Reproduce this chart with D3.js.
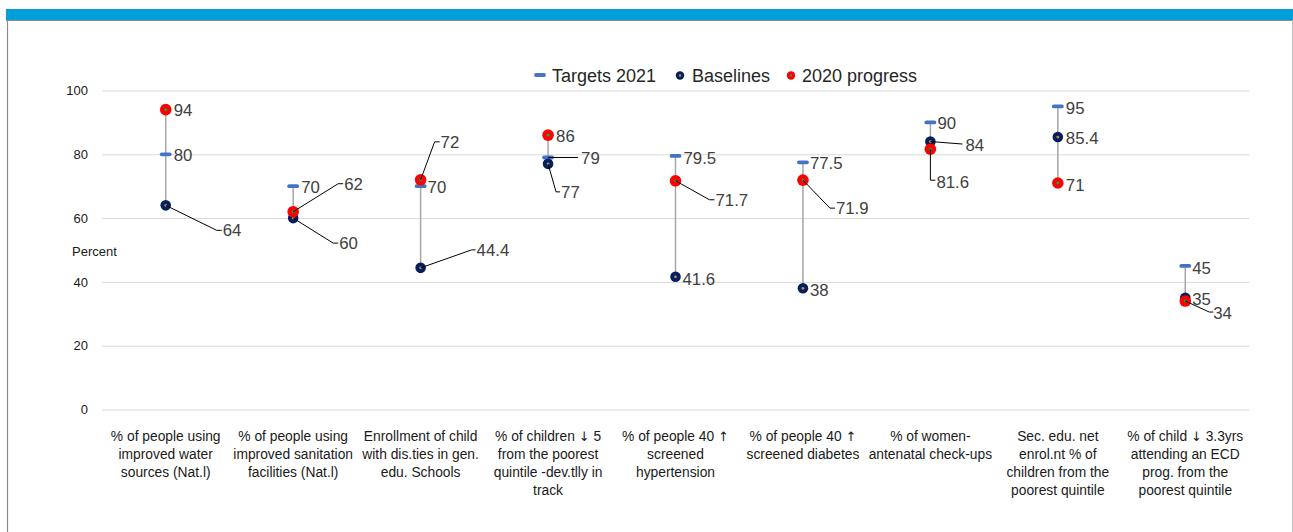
<!DOCTYPE html>
<html>
<head>
<meta charset="utf-8">
<script src="https://cdn.jsdelivr.net/npm/d3@7"></script>
<style>
  html, body { margin: 0; padding: 0; background: #fff; }
  svg { display: block; font-family: "Liberation Sans", Arial, sans-serif; }
</style>
</head>
<body>
<svg id="chart" width="1293" height="532"></svg>
<script>
// Indicator names, pre-wrapped into lines
const categories = [
  ["% of people using", "improved water", "sources (Nat.l)"],
  ["% of people using", "improved sanitation", "facilities (Nat.l)"],
  ["Enrollment of child", "with dis.ties in gen.", "edu. Schools"],
  ["% of children \u2193 5", "from the poorest", "quintile -dev.tlly in", "track"],
  ["% of people 40 \u2191", "screened", "hypertension"],
  ["% of people 40 \u2191", "screened diabetes"],
  ["% of women-", "antenatal check-ups"],
  ["Sec. edu. net", "enrol.nt % of", "children from the", "poorest quintile"],
  ["% of child \u2193 3.3yrs", "attending an ECD", "prog. from the", "poorest quintile"]
];
const targets2021 = [80, 70, 70, 79, 79.5, 77.5, 90, 95, 45];
const baselines   = [64, 60, 44.4, 77, 41.6, 38, 84, 85.4, 35];
const progress2020 = [94, 62, 72, 86, 71.7, 71.9, 81.6, 71, 34];
const yTicks = [0, 20, 40, 60, 80, 100];
const seriesNames = ["Targets 2021", "Baselines", "2020 progress"];

// Label placement (pixel offsets from the mark; optional leader polyline)
const targetLabelLayout = [
  {dx: 8, dy: 1}, {dx: 8, dy: 1}, {dx: 7, dy: 1},
  {dx: 33, dy: 0.5, leader: [[30, 0]]},
  {dx: 8, dy: 2}, {dx: 7, dy: 1}, {dx: 7, dy: 1}, {dx: 8, dy: 2}, {dx: 7, dy: 2}
];
const baselineLabelLayout = [
  {dx: 57, dy: 25, leader: [[51, 25], [56, 25]]},
  {dx: 46, dy: 25, leader: [[40, 25], [45, 25]]},
  {dx: 56, dy: -18, leader: [[51, -18], [55, -18]]},
  {dx: 13, dy: 28, leader: [[8, 28], [12, 28]]},
  {dx: 7, dy: 2},
  {dx: 7, dy: 1.5},
  {dx: 35, dy: 4, leader: [[32, 2.5]]},
  {dx: 8, dy: 1.5},
  {dx: 7, dy: 1.5}
];
const progressLabelLayout = [
  {dx: 8, dy: 0},
  {dx: 51, dy: -28, leader: [[45, -28], [50, -28]]},
  {dx: 20, dy: -38, leader: [[14, -38], [19, -38]]},
  {dx: 8, dy: 1},
  {dx: 40, dy: 19, leader: [[34, 19], [39, 19]]},
  {dx: 33, dy: 28, leader: [[27, 28], [32, 28]]},
  {dx: 6, dy: 33, leader: [[0, 31], [5, 31]]},
  {dx: 8, dy: 2},
  {dx: 28, dy: 12, leader: [[24, 11], [28, 11]]}
];

const svg = d3.select("#chart");
const W = 1293, H = 532;
const plot = {left: 102, right: 1249, top: 90.5, bottom: 409.5};

// Frame: blue header band and grey border
svg.append("rect").attr("x", 6).attr("y", 9).attr("width", W - 6).attr("height", 11).attr("fill", "#009FDA");
svg.append("line").attr("x1", 6).attr("x2", W).attr("y1", 20.5).attr("y2", 20.5).attr("stroke", "#8c8c8c").attr("stroke-width", 1.2);
svg.append("line").attr("x1", 7.5).attr("x2", 7.5).attr("y1", 20).attr("y2", H).attr("stroke", "#8c8c8c").attr("stroke-width", 1.2);
svg.append("line").attr("x1", 1292.5).attr("x2", 1292.5).attr("y1", 20).attr("y2", H).attr("stroke", "#bfbfbf").attr("stroke-width", 1);

const x = d3.scaleBand().domain(d3.range(categories.length)).range([plot.left, plot.right]);
const y = d3.scaleLinear().domain([0, 100]).range([plot.bottom, plot.top]);
const cx = i => x(i) + x.bandwidth() / 2;

// Gridlines
const yAxis = d3.axisLeft(y).tickValues(yTicks).tickSize(-(plot.right - plot.left)).tickPadding(14);
const gy = svg.append("g").attr("transform", `translate(${plot.left},0)`).call(yAxis);
gy.select(".domain").remove();
gy.selectAll(".tick line").attr("stroke", "#d9d9d9").attr("stroke-width", 1);
gy.selectAll(".tick text").attr("fill", "#1a1a1a").attr("font-size", 13).attr("font-family", "Liberation Sans, Arial, sans-serif");

svg.append("text").attr("x", 72).attr("y", 256).attr("font-size", 13).attr("fill", "#1a1a1a").text("Percent");

// Category labels (arrows set in DejaVu Sans so they render as plain glyphs)
const xl = svg.append("g");
categories.forEach((lines, i) => {
  const t = xl.append("text").attr("x", cx(i)).attr("y", 441).attr("text-anchor", "middle")
    .attr("font-size", 13.8).attr("fill", "#1a1a1a");
  lines.forEach((ln, k) => {
    const row = t.append("tspan").attr("x", cx(i)).attr("dy", k === 0 ? 0 : 18);
    ln.split(/([\u2191\u2193])/).forEach(part => {
      if (!part) return;
      const s = row.append("tspan").text(part);
      if (/[\u2191\u2193]/.test(part)) s.attr("font-family", "DejaVu Sans").attr("font-size", 13);
    });
  });
});

// High-low connectors
const gLines = svg.append("g");
categories.forEach((_, i) => {
  const vals = [targets2021[i], baselines[i], progress2020[i]];
  gLines.append("line").attr("x1", cx(i)).attr("x2", cx(i))
    .attr("y1", y(d3.max(vals))).attr("y2", y(d3.min(vals)))
    .attr("stroke", "#a6a6a6").attr("stroke-width", 1.5);
});

// Markers
const gT = svg.append("g");
targets2021.forEach((v, i) => {
  gT.append("line").attr("x1", cx(i) - 4).attr("x2", cx(i) + 4).attr("y1", y(v)).attr("y2", y(v))
    .attr("stroke", "#4472C4").attr("stroke-width", 3.8).attr("stroke-linecap", "round");
});
const gB = svg.append("g");
baselines.forEach((v, i) => {
  gB.append("circle").attr("cx", cx(i)).attr("cy", y(v)).attr("r", 5.3).attr("fill", "#002060");
  gB.append("circle").attr("cx", cx(i)).attr("cy", y(v)).attr("r", 1.4).attr("fill", "#ED7D31");
});
const gP = svg.append("g");
progress2020.forEach((v, i) => {
  gP.append("circle").attr("cx", cx(i)).attr("cy", y(v)).attr("r", 5.8).attr("fill", "#FF0000");
  gP.append("circle").attr("cx", cx(i)).attr("cy", y(v)).attr("r", 1.4).attr("fill", "#00B050");
});

// Data labels with leader lines
const gL = svg.append("g");
function drawLabels(values, layout) {
  values.forEach((v, i) => {
    const px = cx(i), py = y(v), L = layout[i];
    if (L.leader) {
      const pts = [[px, py]].concat(L.leader.map(p => [px + p[0], py + p[1]]));
      gL.append("path").attr("d", d3.line()(pts)).attr("fill", "none")
        .attr("stroke", "#000").attr("stroke-width", 1);
    }
    gL.append("text").attr("x", px + L.dx).attr("y", py + L.dy).attr("dy", "0.35em")
      .attr("font-size", 16.8).attr("fill", "#404040").text(v);
  });
}
drawLabels(targets2021, targetLabelLayout);
drawLabels(baselines, baselineLabelLayout);
drawLabels(progress2020, progressLabelLayout);

// Legend
const lg = svg.append("g").attr("font-size", 18).attr("fill", "#262626");
lg.append("line").attr("x1", 536).attr("x2", 544).attr("y1", 75).attr("y2", 75)
  .attr("stroke", "#4472C4").attr("stroke-width", 3.8).attr("stroke-linecap", "round");
lg.append("text").attr("x", 552).attr("y", 76).attr("dy", "0.35em").text(seriesNames[0]);
lg.append("circle").attr("cx", 680).attr("cy", 75.5).attr("r", 4.2).attr("fill", "#002060");
lg.append("circle").attr("cx", 680).attr("cy", 75.5).attr("r", 1.2).attr("fill", "#ED7D31");
lg.append("text").attr("x", 692).attr("y", 76).attr("dy", "0.35em").text(seriesNames[1]);
lg.append("circle").attr("cx", 791).attr("cy", 75.5).attr("r", 4.2).attr("fill", "#FF0000");
lg.append("circle").attr("cx", 791).attr("cy", 75.5).attr("r", 1.2).attr("fill", "#00B050");
lg.append("text").attr("x", 802).attr("y", 76).attr("dy", "0.35em").text(seriesNames[2]);
</script>
</body>
</html>
